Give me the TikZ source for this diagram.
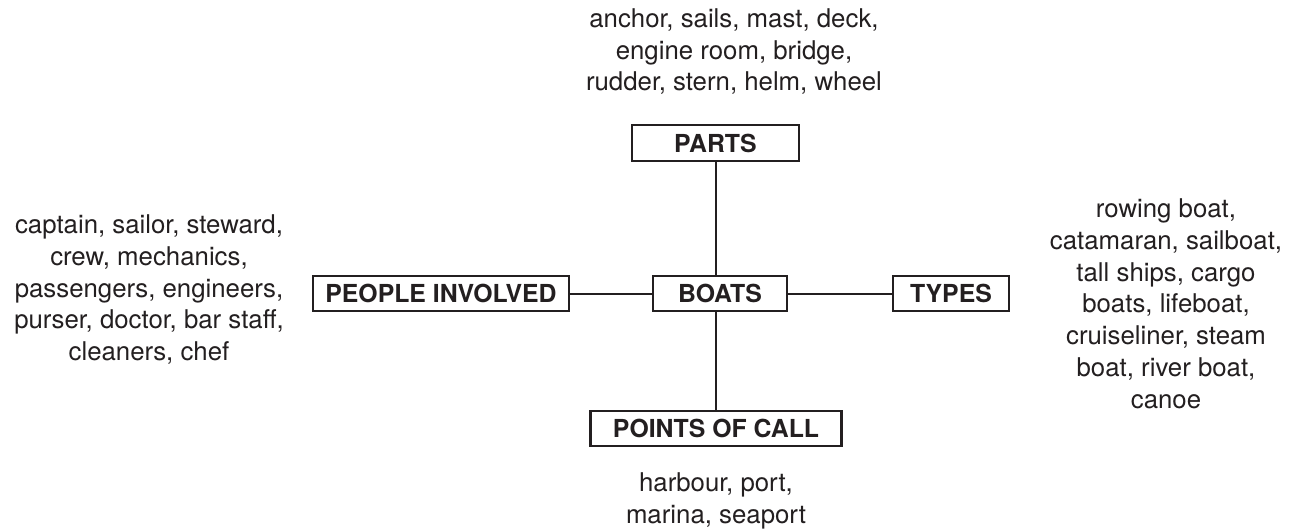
\documentclass[tikz,border=0pt]{standalone}
\usepackage{fontspec}
\setmainfont{TeX Gyre Heros}
\definecolor{ink}{HTML}{231F20}
\begin{document}
\begin{tikzpicture}[x=1pt,y=-1pt,
  boxnode/.style={draw=ink,line width=2.2pt,inner sep=0pt,text=ink,
    font=\fontsize{24.8}{30}\selectfont\bfseries},
  listtext/.style={align=center,inner sep=0pt,text=ink,anchor=base,
    font=\fontsize{25.8}{31.7}\selectfont},
  link/.style={draw=ink,line width=2pt}]
\useasboundingbox (0,0) rectangle (1295,531);
\fill[white] (0,0) rectangle (1295,531);
% boxes
\node[boxnode,minimum width=167pt,minimum height=36pt] (parts) at (715.5,143) {PARTS};
\node[boxnode,minimum width=256pt,minimum height=35pt] (people) at (441,293.5) {PEOPLE INVOLVED};
\node[boxnode,minimum width=134pt,minimum height=35pt] (boats) at (720,293.5) {BOATS};
\node[boxnode,minimum width=116pt,minimum height=35pt] (types) at (951,293.5) {TYPES};
\node[boxnode,minimum width=251pt,minimum height=35pt] (points) at (716,428.5) {POINTS OF CALL};
% connectors
\draw[link] (parts.south) -- (parts.south |- boats.north);
\draw[link] (points.north -| parts.south) -- (parts.south |- boats.south);
\draw[link] (people.east) -- (boats.west);
\draw[link] (boats.east) -- (types.west);
% lists (anchored at the baseline of their last line)
\node[listtext] (partslist) at (734,90.7) {anchor, sails, mast, deck,\\engine room, bridge,\\rudder, stern, helm, wheel};
\node[listtext] (peoplelist) at (149,360.5) {captain, sailor, steward,\\crew, mechanics,\\passengers, engineers,\\purser, doctor, bar staff,\\cleaners, chef};
\node[listtext] (typeslist) at (1166,408) {rowing boat,\\catamaran, sailboat,\\tall ships, cargo\\boats, lifeboat,\\cruiseliner, steam\\boat, river boat,\\canoe};
\node[listtext] (pointslist) at (716,523.3) {harbour, port,\\marina, seaport};
\end{tikzpicture}
\end{document}
